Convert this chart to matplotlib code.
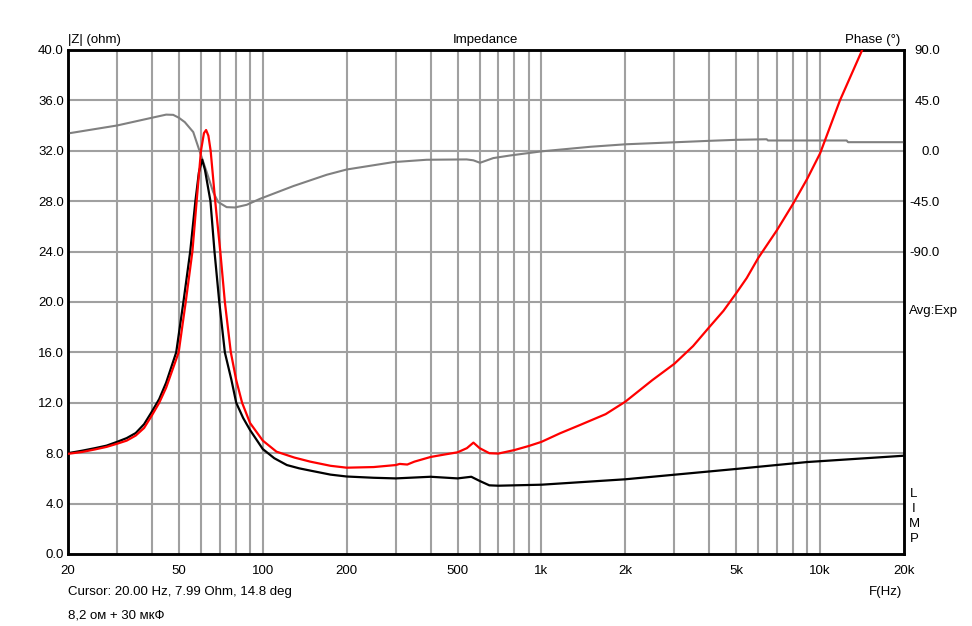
import matplotlib
matplotlib.use("Agg")
import matplotlib.pyplot as plt
import numpy as np

# impedance, driver alone (black)
black_f = [20, 22.5, 25, 27.5, 30, 32.5, 35, 37.5, 40, 42.5, 45, 48.9, 51.9, 54.9, 57.3,
           59, 60.6, 62, 64.9, 67.1, 69.8, 73.1, 77.2, 80.3, 85, 90, 100, 110, 122, 135,
           148, 175, 200, 250, 300, 400, 500, 560, 600, 650, 700, 1000, 2000, 5000, 9000,
           20000]
black_z = [8.0, 8.2, 8.4, 8.6, 8.9, 9.2, 9.6, 10.3, 11.3, 12.3, 13.6, 16, 20, 24, 28,
           30.3, 31.3, 30.5, 28, 24, 20, 16, 13.8, 12.0, 10.8, 9.84, 8.33, 7.6, 7.06, 6.8,
           6.62, 6.3, 6.15, 6.05, 6.0, 6.13, 6.0, 6.13, 5.8, 5.45, 5.42, 5.5, 5.93, 6.75,
           7.3, 7.8]

# impedance with 8,2 ohm + 30 uF (red)
red_f = [20, 22.5, 25, 27.5, 30, 32.5, 35, 37.5, 40, 42.5, 45, 49.9, 52.9, 55.9, 57.9,
         60, 61.5, 62.6, 63.8, 65, 67.5, 70.4, 73.1, 76.8, 80.3, 84.3, 90, 100, 112, 130,
         148, 175, 200, 250, 300, 310, 330, 350, 400, 450, 500, 540, 570, 600, 650, 700,
         800, 900, 1000, 1166, 1376, 1700, 2000, 2500, 3000, 3500, 4000, 4500, 5000, 5452,
         6000, 7000, 8000, 9000, 10000, 11780, 14094, 16000]
red_z = [7.95, 8.1, 8.3, 8.5, 8.75, 9.0, 9.4, 10.0, 11.0, 12.0, 13.2, 16, 20, 24, 28,
         32, 33.4, 33.65, 33.2, 32, 28, 24, 20, 16, 13.8, 12, 10.4, 9.0, 8.12, 7.65,
         7.33, 7.0, 6.85, 6.9, 7.06, 7.15, 7.1, 7.33, 7.7, 7.9, 8.07, 8.4, 8.84,
         8.4, 8.0, 7.97, 8.25, 8.57, 8.9, 9.58, 10.24, 11.1, 12.09, 13.8, 15.1, 16.5,
         18.0, 19.3, 20.7, 21.9, 23.5, 25.7, 27.8, 29.8, 31.8, 36.0, 39.9, 43.0]

# phase (gray)
ph_f = [20, 30, 40, 45, 47.7, 50, 52.5, 56.3, 59.5, 62.9, 66.4, 69.2, 74.2, 79.5, 87.6,
        97.7, 128.7, 169.6, 200, 294, 387.5, 539, 570, 602, 671.7, 771, 1000, 1500, 2000,
        3000, 4000, 5000, 6430, 6500, 12450, 12600, 20000]
ph_deg = [15.5, 22.6, 29.5, 32.3, 32.1, 29.5, 25.6, 16.7, -1.2, -19, -36.9, -45.8, -50.3,
          -50.6, -48.2, -42.9, -31.5, -21.4, -16.7, -10.1, -8.0, -7.7, -8.5, -10.7, -6.5,
          -4.2, -0.5, 3.6, 5.8, 7.6, 8.9, 9.8, 10.3, 9.2, 9.2, 7.7, 7.7]

x_grid = [30, 40, 50, 60, 70, 80, 90, 100, 200, 300, 400, 500, 600, 700, 800, 900,
          1000, 2000, 3000, 4000, 5000, 6000, 7000, 8000, 9000, 10000]
x_ticks = [20, 50, 100, 200, 500, 1000, 2000, 5000, 10000, 20000]
x_labels = ['20', '50', '100', '200', '500', '1k', '2k', '5k', '10k', '20k']
z_ticks = [0, 4, 8, 12, 16, 20, 24, 28, 32, 36, 40]
ph_ticks = [-90, -45, 0, 45, 90]

plt.rcParams['font.family'] = ['Liberation Sans', 'DejaVu Sans']
plt.rcParams['font.size'] = 9.5

W, H = 972, 626
fig = plt.figure(figsize=(W / 100, H / 100), dpi=100)
L, R, T, B = 68, 904, 50, 554
ax = fig.add_axes([L / W, (H - B) / H, (R - L) / W, (B - T) / H])

ax.set_xscale('log')
ax.set_xlim(20, 20000)
ax.set_ylim(0, 40)
ax.set_xticks(x_grid, minor=True)
ax.set_xticks(x_ticks)
ax.set_xticklabels(x_labels)
ax.xaxis.set_minor_formatter(matplotlib.ticker.NullFormatter())
ax.set_yticks(z_ticks)
ax.set_yticklabels(['%.1f' % v for v in z_ticks])
ax.tick_params(which='both', length=0)
ax.tick_params(axis='x', pad=8)
ax.tick_params(axis='y', pad=3)
for xv in x_grid:
    ax.axvline(xv, color='#a0a0a0', lw=1.5, zorder=1)
for yv in z_ticks[1:-1]:
    ax.axhline(yv, color='#a0a0a0', lw=1.5, zorder=1)
for s in ax.spines.values():
    s.set_linewidth(1.8)
    s.set_zorder(5)

ax2 = ax.twinx()
ax2.set_ylim(-360, 90)
ax2.set_yticks(ph_ticks)
ax2.set_yticklabels(['%.1f' % v for v in ph_ticks])
ax2.tick_params(length=0, pad=26)
for lab in ax2.get_yticklabels():
    lab.set_horizontalalignment('right')
ax2.plot(ph_f, ph_deg, color='#808080', lw=1.5, zorder=2)
for s in ax2.spines.values():
    s.set_linewidth(1.8)

# impedance drawn on the phase axes so it sits above the phase trace
ax2.plot(black_f, np.array(black_z) * 11.25 - 360, color='black', lw=1.6, zorder=3)
ax2.plot(red_f, np.array(red_z) * 11.25 - 360, color='#ff0000', lw=1.6, zorder=4)


def ftext(x, y, s, **kw):
    fig.text(x / W, 1 - y / H, s, va='center', **kw)


ftext(68, 40, '|Z| (ohm)', ha='left')
ftext(485, 40, 'Impedance', ha='center')
ftext(900, 40, 'Phase (°)', ha='right')
ftext(909, 311, 'Avg:Exp', ha='left')
for i, ch in enumerate('LIMP'):
    ftext(914, 494 + i * 15, ch, ha='center')
ftext(68, 592, 'Cursor: 20.00 Hz, 7.99 Ohm, 14.8 deg', ha='left')
ftext(68, 615, '8,2 ом + 30 мкФ', ha='left')
ftext(885, 592, 'F(Hz)', ha='center')

fig.savefig('out.png', dpi=100)
